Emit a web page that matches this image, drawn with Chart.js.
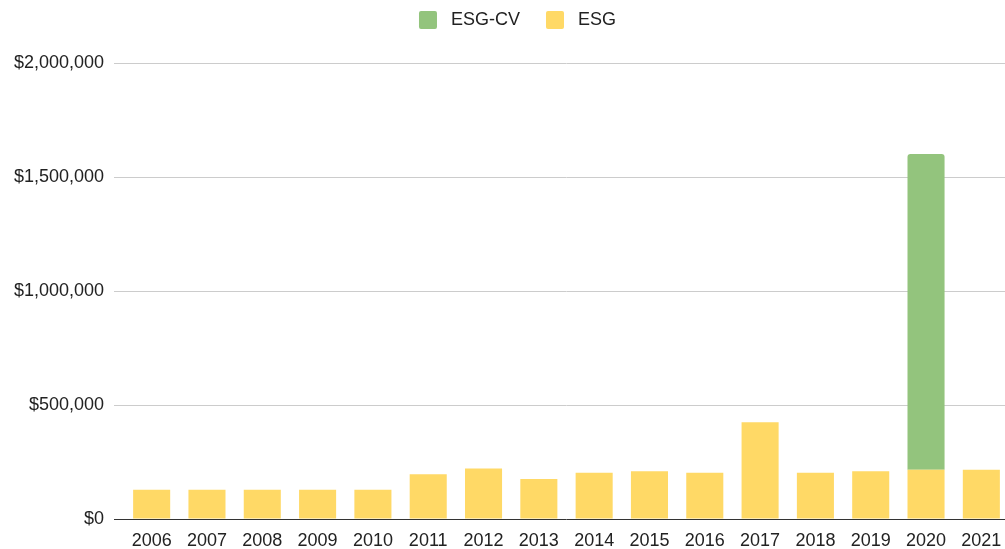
<!DOCTYPE html>
<html>
<head>
<meta charset="utf-8">
<script src="https://cdn.jsdelivr.net/npm/chart.js@4/dist/chart.umd.min.js"></script>
<style>
  html, body { margin: 0; padding: 0; overflow: hidden; background: #fff; }
  #wrap { width: 1033px; height: 549px; position: relative; }
</style>
</head>
<body>
<div id="wrap"><canvas id="chart"></canvas></div>
<script>
    const years = ['2006', '2007', '2008', '2009', '2010', '2011', '2012', '2013',
                   '2014', '2015', '2016', '2017', '2018', '2019', '2020', '2021'];
    const esg = [128000, 128000, 128000, 128000, 128000, 196000, 222000, 175000,
                 203000, 209000, 203000, 424000, 203000, 209000, 216000, 216000];
    const esgCv = [null, null, null, null, null, null, null, null,
                   null, null, null, null, null, null, 1385000, null];
    const yTicks = [0, 500000, 1000000, 1500000, 2000000];

    const font = { family: "Arial, 'Liberation Sans', sans-serif", size: 18 };

    // legend sits higher and a bit to the right, with room under it
    const legendGap = {
      id: 'legendGap',
      beforeLayout(chart) {
        const lg = chart.legend;
        if (lg && !lg._patched) {
          const fit = lg.fit;
          lg.fit = function () { fit.call(this); this.height = 78; };
          lg._patched = true;
        }
      },
      afterLayout(chart) {
        chart.legend.left += 13;
        chart.legend.right += 13;
      }
    };

    const ctx = document.getElementById('chart').getContext('2d');
    const chart = new Chart(ctx, {
      type: 'bar',
      data: {
        labels: years,
        datasets: [
          {
            label: 'ESG',
            data: esg,
            backgroundColor: '#ffd966',
            categoryPercentage: 1,
            barPercentage: 0.67
          },
          {
            label: 'ESG-CV',
            data: esgCv,
            backgroundColor: '#93c47d',
            borderRadius: { topLeft: 3, topRight: 3 },
            borderSkipped: 'bottom',
            categoryPercentage: 1,
            barPercentage: 0.67
          }
        ]
      },
      options: {
        responsive: true,
        maintainAspectRatio: false,
        animation: false,
        layout: { padding: { top: -15, right: 24, bottom: 0, left: 0 } },
        plugins: {
          legend: {
            position: 'top',
            reverse: true,
            labels: {
              boxWidth: 18,
              boxHeight: 18,
              padding: 26,
              color: '#222',
              font: font,
              useBorderRadius: true,
              borderRadius: 2,
              // a bit more room between swatch and text
              generateLabels: c => Chart.defaults.plugins.legend.labels.generateLabels(c)
                .map(l => Object.assign(l, { text: ' ' + l.text }))
            }
          },
          tooltip: { enabled: false }
        },
        scales: {
          x: {
            stacked: true,
            grid: { display: false },
            border: { display: false },
            ticks: { color: '#222', font: font, padding: 3, maxRotation: 0, autoSkip: false },
            afterFit(scale) { scale.height = 30; }
          },
          y: {
            stacked: true,
            min: 0,
            max: 2000000,
            border: { display: false },
            grid: {
              color: c => c.tick && c.tick.value === 0 ? '#333' : '#cccccc',
              tickColor: c => c.tick && c.tick.value === 0 ? '#333' : '#cccccc',
              tickLength: 10,
              drawTicks: true
            },
            afterBuildTicks(scale) {
              scale.ticks = yTicks.map(v => ({ value: v }));
            },
            ticks: {
              color: '#222',
              font: font,
              padding: 10,
              callback: v => '$' + Number(v).toLocaleString('en-US')
            },
            afterFit(scale) { scale.width = 124; }
          }
        }
      },
      plugins: [legendGap]
    });
</script>
</body>
</html>
